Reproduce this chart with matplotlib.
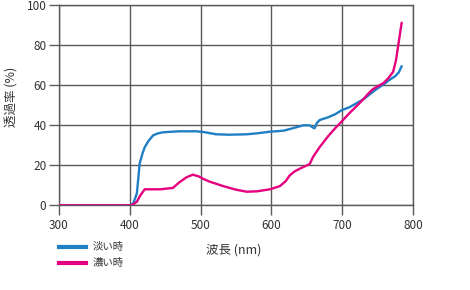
import matplotlib
matplotlib.use("Agg")
import matplotlib.pyplot as plt
from matplotlib.lines import Line2D

plt.rcParams['font.family'] = ['Noto Sans CJK JP', 'DejaVu Sans']

# Data
light_nm = [300, 380, 400, 405, 410, 414, 418, 421, 426, 433, 440, 447, 460, 471, 494, 505, 522, 540, 565, 580, 598, 617, 630, 645, 654, 658, 661, 664, 668, 680, 690, 699, 710, 720, 730, 739, 748, 758, 766, 775, 780, 784]
light_val = [0, 0, 0, 1, 6, 21, 26, 29, 32, 35, 36, 36.5, 36.8, 37, 37, 36.6, 35.5, 35.3, 35.5, 36, 36.8, 37.3, 38.5, 40, 40, 39, 38.5, 41, 42.6, 44, 45.5, 47.5, 49, 51, 53, 55.5, 58, 60.3, 62.5, 64.6, 66.5, 69.6]
dark_nm = [300, 380, 400, 405, 410, 415, 421, 430, 443, 461, 470, 480, 489, 497, 505, 513, 532, 550, 565, 580, 598, 612, 620, 626, 633, 640, 654, 659, 668, 680, 690, 699, 710, 720, 729, 736, 743, 750, 758, 765, 772, 776, 780, 784]
dark_val = [0, 0, 0, 0.5, 1.8, 5, 8, 8, 8, 8.7, 11.5, 14, 15.3, 14.5, 13, 11.8, 9.6, 7.8, 6.8, 7, 8, 9.6, 12, 15, 17, 18.3, 20.6, 24.3, 29, 34.5, 38.5, 41.8, 46, 49.5, 52.7, 55.5, 58, 59.5, 61, 63.5, 66.8, 72.6, 82, 91.3]

x_ticks = [300, 400, 500, 600, 700, 800]
y_ticks = [0, 20, 40, 60, 80, 100]
labels = ['淡い時', '濃い時']
xlabel = '波長 (nm)'
ylabel = '透過率 (%)'

blue = '#1f7fc4'
pink = '#e5007f'
grid_c = '#5a5a5a'
text_c = '#333333'

fig = plt.figure(figsize=(4.7, 2.9), dpi=100)
ax = fig.add_axes([59/470, 1-205.3/290, 354/470, 200/290])

ax.plot(light_nm, light_val, color=blue, lw=1.7, solid_capstyle='round', zorder=3)
ax.plot(dark_nm, dark_val, color=pink, lw=1.7, solid_capstyle='round', zorder=3)

ax.set_xlim(300, 800)
ax.set_ylim(0, 100)
ax.set_xticks(x_ticks)
ax.set_yticks(y_ticks)
ax.grid(True, color=grid_c, lw=1)
for s in ax.spines.values():
    s.set_color(grid_c)
    s.set_linewidth(1)
ax.tick_params(axis='both', colors=grid_c, length=7, width=1, labelsize=8.5, labelcolor=text_c)
ax.tick_params(axis='x', pad=3)
ax.tick_params(axis='y', pad=2)

ax.set_xlabel(xlabel, fontsize=9, color=text_c, va='center')
ax.xaxis.set_label_coords((234-59)/354, (205.3-250)/200)
ax.set_ylabel(ylabel, fontsize=9, color=text_c, va='center')
ax.yaxis.set_label_coords((12-59)/354, (205.3-97)/200)

handles = [Line2D([], [], color=blue, lw=3), Line2D([], [], color=pink, lw=3)]
fig.legend(handles, labels, loc='upper left', bbox_to_anchor=(55/470, 1-238/290),
           frameon=False, fontsize=7.5, handlelength=2.6, labelspacing=0.6,
           handletextpad=0.6, borderaxespad=0, labelcolor=text_c)

fig.savefig('out.png', dpi=100)
